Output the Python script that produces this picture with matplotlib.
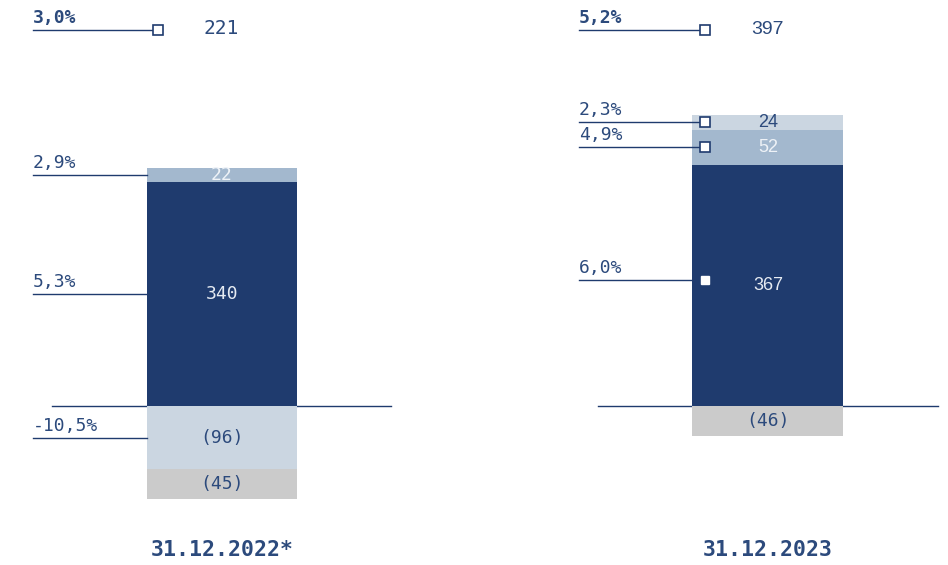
import matplotlib
matplotlib.use("Agg")
import matplotlib.pyplot as plt

# --- data -------------------------------------------------------------
dates = ["31.12.2022*", "31.12.2023"]
totals = [221, 397]
total_rates = ["3,0%", "5,2%"]

pos_2022 = [340, 22]
pos_2022_rates = ["5,3%", "2,9%"]
neg_2022 = [-96, -45]
neg_2022_rates = ["-10,5%", None]

pos_2023 = [367, 52, 24]
pos_2023_rates = ["6,0%", "4,9%", "2,3%"]
neg_2023 = [-46]
neg_2023_rates = [None]

# --- styling ----------------------------------------------------------
NAVY = "#1f3b6e"
TXT = "#2c4a7c"
MID = "#a3b8ce"
LIGHT = "#cbd6e1"
GREY = "#cbcbcb"
MONO = "DejaVu Sans Mono"
SANS = "Liberation Sans"

W, H = 948, 565
PX = 0.658          # pixels per unit
ZERO = 406          # pixel row of the zero line


def py(p):
    """pixel row -> data value"""
    return (ZERO - p) / PX


fig = plt.figure(figsize=(W / 100, H / 100), dpi=100)
ax = fig.add_axes([0, 0, 1, 1])
ax.set_xlim(0, W)
ax.set_ylim(py(H), py(0))
ax.axis("off")

panels = [
    dict(cx=222, w=150, pos=pos_2022, pr=pos_2022_rates, pc=[NAVY, MID],
         ptc=["#e6ebf2", "#eef2f7"], neg=neg_2022, nr=neg_2022_rates,
         nc=[LIGHT, GREY], lx=33, base=(52, 391), font=MONO,
         markers=[None, None], marker_x=None, total_x=221, total_font=MONO),
    dict(cx=768, w=151, pos=pos_2023, pr=pos_2023_rates, pc=[NAVY, MID, LIGHT],
         ptc=["#e6ebf2", "#eef2f7", TXT], neg=neg_2023, nr=neg_2023_rates,
         nc=[GREY], lx=579, base=(598, 938), font=SANS,
         markers=["filled", "hollow", "hollow"], marker_x=705, total_x=767,
         total_font=SANS),
]

for i, p in enumerate(panels):
    left = p["cx"] - p["w"] / 2
    # zero line
    ax.plot(p["base"], [0, 0], color=NAVY, lw=1, zorder=1)

    # positive stack
    bottom = 0
    for k, v in enumerate(p["pos"]):
        ax.bar(p["cx"], v, bottom=bottom, width=p["w"], color=p["pc"][k],
               edgecolor="none", zorder=2)
        mid = bottom + v / 2
        ax.text(p["cx"], mid, f"{v}", ha="center", va="center",
                color=p["ptc"][k], fontsize=13, family=p["font"], zorder=4)
        rate = p["pr"][k]
        if rate:
            ly = mid
            if p["markers"][k] == "filled":
                ly = mid + py(280) - py(285)
            m = p["markers"][k]
            xe = p["marker_x"] if m == "hollow" else left
            ax.plot([p["lx"], xe], [ly, ly], color=NAVY, lw=1, zorder=3)
            if m == "hollow":
                ax.plot(xe, ly, marker="s", ms=7.5, mfc="white", mec=NAVY,
                        mew=1.2, zorder=5)
            elif m == "filled":
                ax.plot(p["marker_x"], ly, marker="s", ms=6, mfc="white",
                        mec="white", zorder=5)
            ax.text(p["lx"], ly + 3 / PX, rate, ha="left", va="bottom",
                    color=TXT, fontsize=13, family=MONO, zorder=4)
        bottom += v

    # negative stack
    bottom = 0
    for k, v in enumerate(p["neg"]):
        ax.bar(p["cx"], v, bottom=bottom, width=p["w"], color=p["nc"][k],
               edgecolor="none", zorder=2)
        mid = bottom + v / 2
        ax.text(p["cx"], mid, f"({-v})", ha="center", va="center",
                color=TXT, fontsize=13, family=MONO, zorder=4)
        rate = p["nr"][k]
        if rate:
            ax.plot([p["lx"], left], [mid, mid], color=NAVY, lw=1, zorder=3)
            ax.text(p["lx"], mid + 3 / PX, rate, ha="left", va="bottom",
                    color=TXT, fontsize=13, family=MONO, zorder=4)
        bottom += v

    # total row
    ty = py(30)
    mx = left + 11 if i == 0 else p["marker_x"]
    ax.plot([p["lx"], mx], [ty, ty], color=NAVY, lw=1, zorder=3)
    ax.plot(mx, ty, marker="s", ms=7.5, mfc="white", mec=NAVY, mew=1.2,
            zorder=5)
    ax.text(p["lx"], ty + 3 / PX, total_rates[i], ha="left", va="bottom",
            color=TXT, fontsize=13, family=MONO, weight="bold")
    ax.text(p["total_x"], ty + 1 / PX, f"{totals[i]}", ha="center",
            va="center", color=TXT, fontsize=14, family=p["total_font"])

    # date label
    ax.text(p["cx"], py(550), dates[i], ha="center", va="center",
            color=TXT, fontsize=15.5, family=MONO, weight="bold")

fig.savefig("out.png", dpi=100, facecolor="white")
